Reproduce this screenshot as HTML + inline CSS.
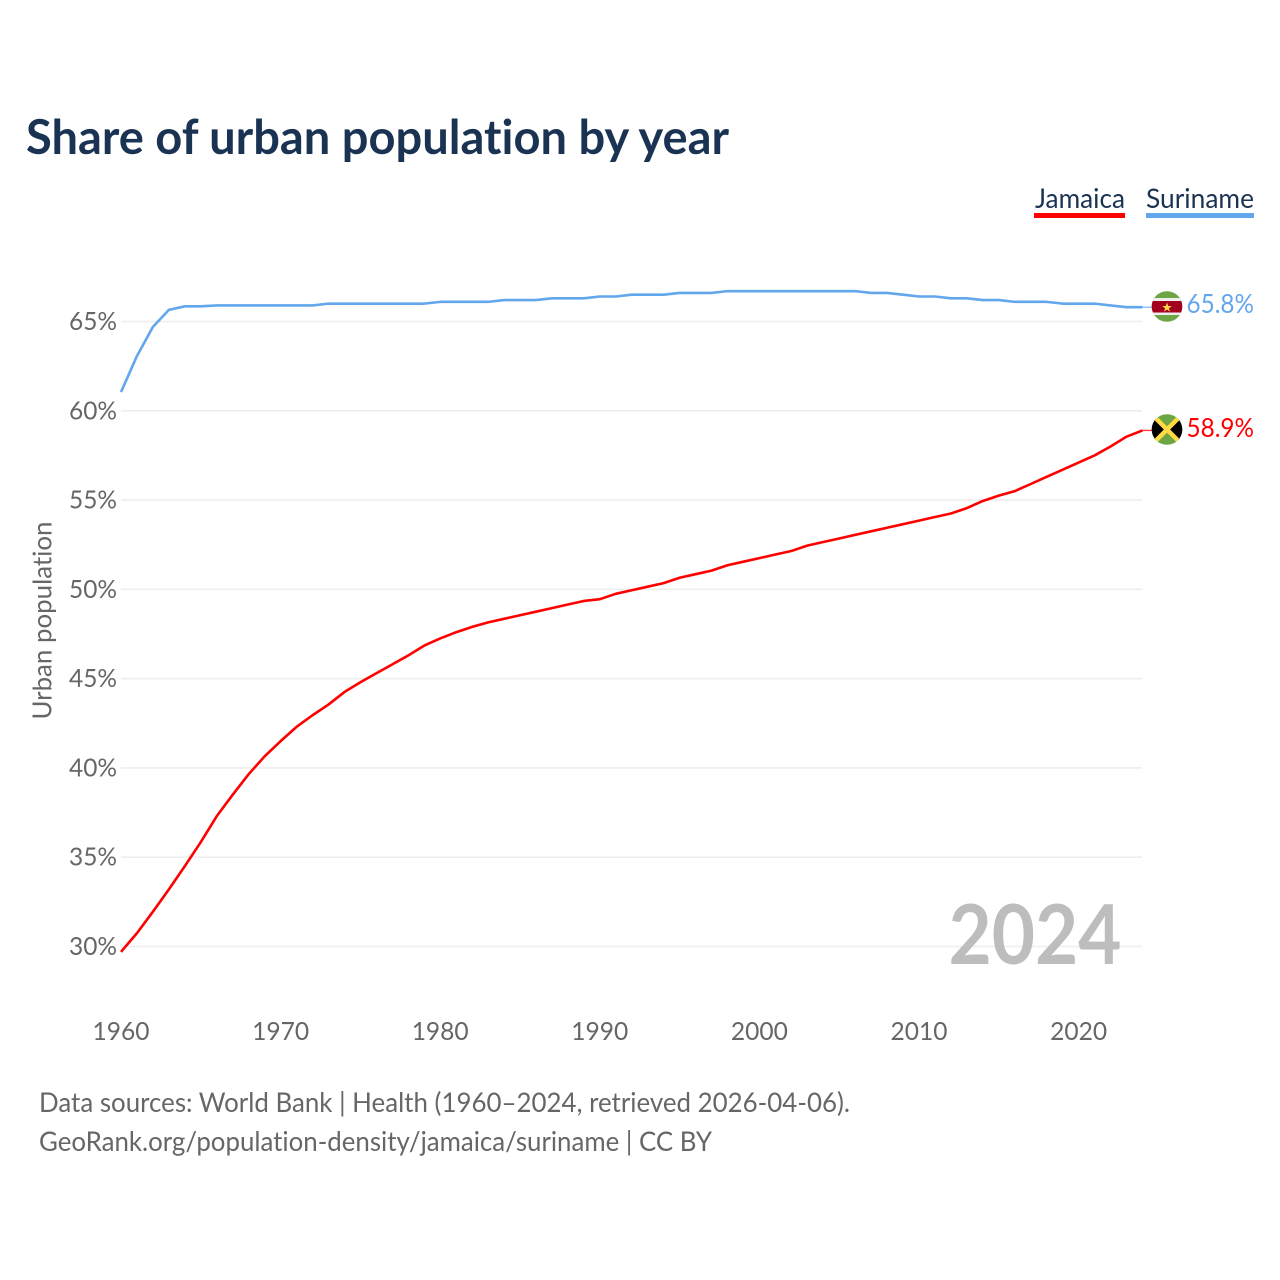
<!DOCTYPE html>
<html lang="en">
<head>
<meta charset="utf-8">
<title>Share of urban population by year</title>
<style>
html,body{margin:0;padding:0;background:#fff;width:1280px;height:1280px;overflow:hidden}
svg{display:block}
text{font-family:"Lato","Carlito","Liberation Sans",sans-serif;font-variant-ligatures:none}
</style>
</head>
<body>
<svg id="chart" xmlns="http://www.w3.org/2000/svg" width="1280" height="1280" viewBox="0 0 1280 1280">
  <rect width="1280" height="1280" fill="#fff"/>
  <text x="26" y="154" font-size="48" font-weight="700" fill="#1a3353" textLength="703" lengthAdjust="spacingAndGlyphs">Share of urban population by year</text>

  <text x="1035" y="208" font-size="27" fill="#1a3353" textLength="90" lengthAdjust="spacingAndGlyphs">Jamaica</text>
  <rect x="1034" y="213" width="91" height="5" fill="#ff0000"/>
  <text x="1146" y="208" font-size="27" fill="#1a3353" textLength="108" lengthAdjust="spacingAndGlyphs">Suriname</text>
  <rect x="1146" y="213" width="108" height="5" fill="#62a6ec"/>

  <g id="grid"></g>
  <g id="yticks"></g>
  <g id="xticks"></g>
  <text transform="translate(51.500,719.500) rotate(-90)" font-size="26.500" fill="#666" textLength="198" lengthAdjust="spacingAndGlyphs">Urban population</text>

  <text x="948.500" y="964" font-size="82" font-weight="700" fill="#bdbdbd" textLength="173" lengthAdjust="spacingAndGlyphs">2024</text>

  <g id="series"></g>

  <defs>
    <clipPath id="flag-sr-clip"><circle cx="1167" cy="306.500" r="15.300"/></clipPath>
    <clipPath id="flag-jm-clip"><circle cx="1167" cy="429.500" r="15.300"/></clipPath>
  </defs>
  <g id="flag-suriname" clip-path="url(#flag-sr-clip)">
    <rect x="1151" y="291" width="32" height="31" fill="#6da544"/>
    <rect x="1151" y="298" width="32" height="17" fill="#eeeeee"/>
    <rect x="1151" y="301" width="32" height="11.500" fill="#a2001d"/>
    <polygon points="1167,302.500 1168.200,306 1171.800,306 1168.900,308.200 1170,311.600 1167,309.500 1164,311.600 1165.100,308.200 1162.200,306 1165.800,306" fill="#ffda44"/>
  </g>
  <g id="flag-jamaica" clip-path="url(#flag-jm-clip)">
    <rect x="1151" y="414" width="32" height="31" fill="#6da544"/>
    <polygon points="1151,413.500 1167,429.500 1151,445.500" fill="#000"/>
    <polygon points="1183,413.500 1167,429.500 1183,445.500" fill="#000"/>
    <path d="M1151 413.500 L1183 445.500 M1183 413.500 L1151 445.500" stroke="#ffda44" stroke-width="4.500" fill="none"/>
  </g>

  <text x="1186.500" y="313" font-size="26.500" fill="#62a6ec" textLength="67.500" lengthAdjust="spacingAndGlyphs">65.8%</text>
  <text x="1186.500" y="437" font-size="26.500" fill="#ff0000" textLength="67.500" lengthAdjust="spacingAndGlyphs">58.9%</text>

  <text x="39" y="1112" font-size="27" fill="#666" textLength="811" lengthAdjust="spacingAndGlyphs">Data sources: World Bank | Health (1960–2024, retrieved 2026-04-06).</text>
  <text x="39" y="1151" font-size="27" fill="#666" textLength="673" lengthAdjust="spacingAndGlyphs">GeoRank.org/population-density/jamaica/suriname | CC BY</text>
</svg>
<script>
const startYear = 1960;
const yTicks = [30, 35, 40, 45, 50, 55, 60, 65];
const yTickLabels = ["30%", "35%", "40%", "45%", "50%", "55%", "60%", "65%"];
const xTicks = [1960, 1970, 1980, 1990, 2000, 2010, 2020];
const jamaicaValues = [29.7,30.75,31.95,33.2,34.5,35.85,37.3,38.5,39.65,40.65,41.5,42.3,42.95,43.55,44.25,44.8,45.3,45.8,46.3,46.85,47.25,47.6,47.9,48.15,48.35,48.55,48.75,48.95,49.15,49.35,49.45,49.75,49.95,50.15,50.35,50.65,50.85,51.05,51.35,51.55,51.75,51.95,52.15,52.45,52.65,52.85,53.05,53.25,53.45,53.65,53.85,54.05,54.25,54.55,54.95,55.25,55.5,55.9,56.3,56.7,57.1,57.5,58.0,58.55,58.9];
const surinameValues = [61.05,63.07,64.7,65.65,65.85,65.85,65.9,65.9,65.9,65.9,65.9,65.9,65.9,66.0,66.0,66.0,66.0,66.0,66.0,66.0,66.1,66.1,66.1,66.1,66.2,66.2,66.2,66.3,66.3,66.3,66.4,66.4,66.5,66.5,66.5,66.6,66.6,66.6,66.7,66.7,66.7,66.7,66.7,66.7,66.7,66.7,66.7,66.6,66.6,66.5,66.4,66.4,66.3,66.3,66.2,66.2,66.1,66.1,66.1,66.0,66.0,66.0,65.9,65.8,65.8];

const NS = "http://www.w3.org/2000/svg";
function xScale(year) { return 121 + (year - 1960) * (957.6 / 60); }
function yScale(value) { return 946.5 - (value - 30) * (625 / 35); }
function make(tag, attrs, parent, text) {
  const el = document.createElementNS(NS, tag);
  for (const k in attrs) el.setAttribute(k, attrs[k]);
  if (text !== undefined) el.textContent = text;
  parent.appendChild(el);
  return el;
}
const grid = document.getElementById("grid");
const yG = document.getElementById("yticks");
const xG = document.getElementById("xticks");
const seriesG = document.getElementById("series");

yTicks.forEach(function (t, i) {
  const y = yScale(t);
  const line = make("line", {x1: 121, x2: 1142, y1: y, y2: y, stroke: "#eeeeee", "stroke-width": 1.6}, grid);
  
  
  const label = make("text", {x: 117, y: y + 8.5, "text-anchor": "end", "font-size": 25.5, fill: "#666", textLength: 48, lengthAdjust: "spacingAndGlyphs"}, yG, yTickLabels[i]);
  
  
});
xTicks.forEach(function (t) {
  const label = make("text", {x: xScale(t), y: 1040, "text-anchor": "middle", "font-size": 25.5, fill: "#666", textLength: 57, lengthAdjust: "spacingAndGlyphs"}, xG, String(t));
  
  
});
function linePath(values) {
  return values.map(function (v, i) {
    return (i ? "L" : "M") + xScale(startYear + i).toFixed(2) + " " + yScale(v).toFixed(2);
  }).join(" ");
}
function drawSeries(values, color) {
  return make("path", {d: linePath(values), fill: "none", stroke: color, "stroke-width": 2.6, "stroke-linejoin": "round"}, seriesG);
}
function drawConnector(values, color) {
  const last = values[values.length - 1];
  const y = yScale(last);
  return make("line", {x1: xScale(startYear + values.length - 1), x2: 1152, y1: y, y2: y, stroke: color, "stroke-width": 1.3, opacity: 0.8}, seriesG);
}
const surinameLine = drawSeries(surinameValues, "#62a6ec");


const jamaicaLine = drawSeries(jamaicaValues, "#ff0000");


const surinameConnector = drawConnector(surinameValues, "#62a6ec");


const jamaicaConnector = drawConnector(jamaicaValues, "#ff0000");


</script>
</body>
</html>
